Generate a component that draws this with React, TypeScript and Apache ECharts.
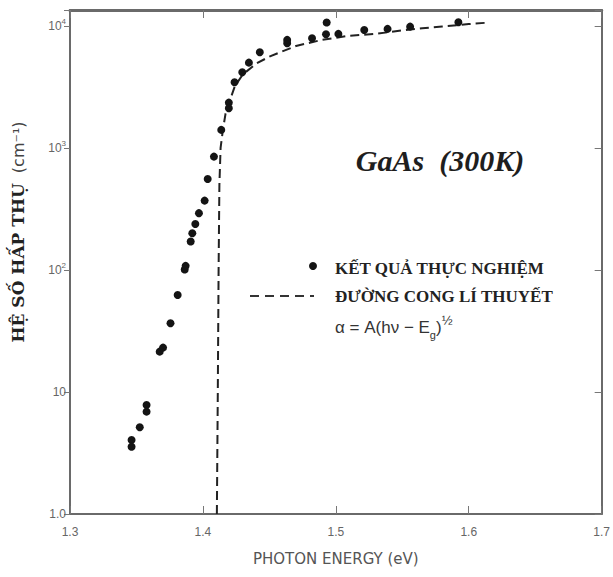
import React, { useEffect, useRef } from "react";
import * as echarts from "echarts";

// Experimental points: photon energy (eV), absorption coefficient (cm^-1)
const expEnergy = [
  1.3463, 1.3463, 1.3525, 1.3576, 1.3576, 1.3675, 1.37, 1.3756, 1.381, 1.3863,
  1.387, 1.3908, 1.392, 1.3943, 1.397, 1.4013, 1.4036, 1.4083, 1.4138, 1.4195,
  1.4195, 1.4238, 1.4296, 1.4346, 1.4428, 1.4634, 1.4634, 1.4821, 1.4926, 1.4931,
  1.5019, 1.5214, 1.5389, 1.5559, 1.5922,
];
const expAlpha = [
  4.04, 3.56, 5.14, 7.82, 6.9, 21.4, 23.1, 36.6, 62.4, 101,
  108, 171, 200, 238, 292, 370, 557, 849, 1405, 2352,
  2115, 3456, 4170, 5000, 6085, 7210, 7680, 7930, 8550, 10650,
  8600, 9270, 9450, 9860, 10720,
];

// Theoretical curve
const theoEnergy = [
  1.4105, 1.4112, 1.4118, 1.4124, 1.4133, 1.415, 1.417, 1.42, 1.424, 1.43,
  1.44, 1.45, 1.47, 1.49, 1.51, 1.53, 1.55, 1.565, 1.58, 1.6, 1.615,
];
const theoAlpha = [
  1.0, 10, 100, 500, 1000, 1400, 1900, 2400, 3200, 4000,
  4900, 5600, 6850, 7700, 8300, 8600, 9200, 9570, 9900, 10350, 10650,
];

const xTicks = { min: 1.3, max: 1.7, interval: 0.1 };
const yRange = { min: 1, max: 13500 };
const yTickLabels: Record<string, string> = {
  "1": "{b|1.0}",
  "10": "{b|10}",
  "100": "{b|10}{s|2}",
  "1000": "{b|10}{s|3}",
  "10000": "{b|10}{s|4}",
};

const seriesNames = ["KẾT QUẢ THỰC NGHIỆM", "ĐƯỜNG CONG LÍ THUYẾT"];
const title = "GaAs  (300K)";
const xName = "PHOTON ENERGY (eV)";

export default function App() {
  const ref = useRef<HTMLDivElement>(null);
  useEffect(() => {
    document.body.style.margin = "0";
    const chart = echarts.init(ref.current!, null, { renderer: "svg" });
    const axisLineStyle = { color: "#6a6a6a", width: 2 };
    const serif = "'Liberation Serif', 'DejaVu Serif', serif";
    const sans = "'Liberation Sans', 'DejaVu Sans', sans-serif";
    chart.setOption({
      animation: false,
      backgroundColor: "#ffffff",
      grid: { left: 70, right: 10, top: 10, bottom: 63, show: false },
      xAxis: [
        {
          type: "value",
          min: xTicks.min,
          max: xTicks.max,
          interval: xTicks.interval,
          name: xName,
          nameLocation: "middle",
          nameGap: 37,
          nameTextStyle: { color: "#555", fontSize: 15, fontFamily: "'DejaVu Sans', sans-serif" },
          axisLine: { show: true, lineStyle: axisLineStyle },
          axisTick: { show: true, inside: true, length: 8, lineStyle: { color: "#777" } },
          axisLabel: {
            color: "#666",
            fontSize: 12,
            fontFamily: sans,
            margin: 12,
            formatter: (v: number) => v.toFixed(1),
          },
          splitLine: { show: false },
        },
        {
          type: "value",
          position: "top",
          min: xTicks.min,
          max: xTicks.max,
          interval: xTicks.interval,
          axisLine: { show: true, lineStyle: { color: "#6a6a6a", width: 3 } },
          axisTick: { show: true, inside: true, length: 8, lineStyle: { color: "#777" } },
          axisLabel: { show: false },
          splitLine: { show: false },
        },
      ],
      yAxis: [
        {
          type: "log",
          logBase: 10,
          min: yRange.min,
          max: yRange.max,
          axisLine: { show: true, lineStyle: axisLineStyle },
          axisTick: { show: true, inside: false, length: 6, lineStyle: { color: "#777" } },
          axisLabel: {
            margin: 4,
            formatter: (v: number) => yTickLabels[String(Math.round(v))] ?? "",
            rich: {
              b: { color: "#666", fontSize: 12, fontFamily: sans, verticalAlign: "middle", lineHeight: 16 },
              s: { color: "#666", fontSize: 8, fontFamily: sans, verticalAlign: "top", lineHeight: 16 },
            },
          },
          splitLine: { show: false },
          minorTick: { show: false },
        },
        {
          type: "log",
          logBase: 10,
          position: "right",
          min: yRange.min,
          max: yRange.max,
          axisLine: { show: true, lineStyle: axisLineStyle },
          axisTick: { show: true, inside: true, length: 7, lineStyle: { color: "#777" } },
          axisLabel: { show: false },
          splitLine: { show: false },
        },
      ],
      series: [
        {
          name: seriesNames[0],
          type: "scatter",
          xAxisIndex: 0,
          yAxisIndex: 0,
          symbol: "circle",
          symbolSize: 8,
          itemStyle: { color: "#141414", opacity: 1 },
          data: expEnergy.map((e, i) => [e, expAlpha[i]]),
          z: 3,
        },
        {
          name: seriesNames[1],
          type: "line",
          xAxisIndex: 0,
          yAxisIndex: 0,
          showSymbol: false,
          symbol: "none",
          lineStyle: { color: "#222", width: 2, type: [9, 5] },
          data: theoEnergy.map((e, i) => [e, theoAlpha[i]]),
          z: 2,
        },
      ],
      graphic: [
        {
          type: "text",
          x: 18,
          y: 232,
          rotation: Math.PI / 2,
          style: {
            text: "{a|HỆ SỐ HẤP THỤ}   {b|(cm⁻¹)}",
            align: "center",
            verticalAlign: "middle",
            rich: {
              a: { fontFamily: "'DejaVu Serif', serif", fontWeight: "bold", fontSize: 17, fill: "#222" },
              b: { fontFamily: "'DejaVu Sans', sans-serif", fontSize: 16, fill: "#444" },
            },
          },
        },
        {
          type: "text",
          x: 440,
          y: 160,
          style: {
            text: title,
            align: "center",
            verticalAlign: "middle",
            fontFamily: serif,
            fontStyle: "italic",
            fontWeight: "bold",
            fontSize: 30,
            fill: "#1e1e1e",
          },
        },
        {
          type: "circle",
          shape: { cx: 313, cy: 266, r: 4 },
          style: { fill: "#141414" },
        },
        {
          type: "text",
          x: 335,
          y: 268,
          style: {
            text: seriesNames[0],
            verticalAlign: "middle",
            fontFamily: serif,
            fontWeight: "bold",
            fontSize: 17,
            fill: "#222",
          },
        },
        {
          type: "line",
          shape: { x1: 250, y1: 296, x2: 314, y2: 296 },
          style: { stroke: "#333", lineWidth: 2, lineDash: [9, 6] },
        },
        {
          type: "text",
          x: 335,
          y: 296,
          style: {
            text: seriesNames[1],
            verticalAlign: "middle",
            fontFamily: serif,
            fontWeight: "bold",
            fontSize: 17,
            fill: "#222",
          },
        },
        {
          type: "text",
          x: 335,
          y: 327,
          style: {
            text: "{n|α = A(hν − E}{s|g}{n|)}{p|½}",
            verticalAlign: "middle",
            rich: {
              n: { fontFamily: sans, fontSize: 17, fill: "#333", lineHeight: 26, verticalAlign: "middle" },
              s: { fontFamily: sans, fontSize: 11, fill: "#333", lineHeight: 22, verticalAlign: "bottom" },
              p: { fontFamily: sans, fontSize: 13, fill: "#333", lineHeight: 24, verticalAlign: "top" },
            },
          },
        },
      ],
    });
    return () => chart.dispose();
  }, []);
  return <div ref={ref} style={{ width: 613, height: 577 }} />;
}
